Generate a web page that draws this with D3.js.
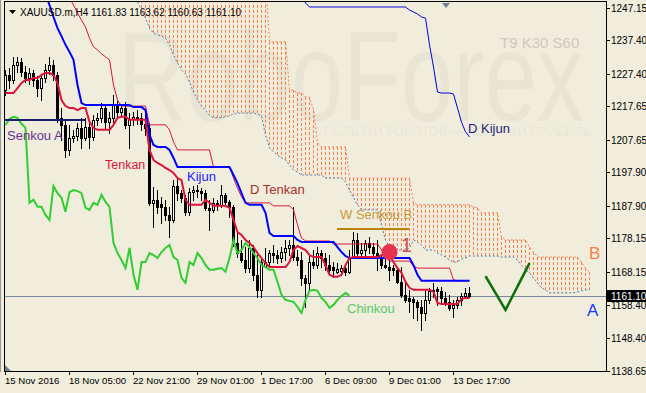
<!DOCTYPE html>
<html><head><meta charset="utf-8">
<script src="https://cdn.jsdelivr.net/npm/d3@7"></script>
<style>
html,body{margin:0;padding:0;background:#f0eddc;}
svg{display:block;font-family:"Liberation Sans",Arial,sans-serif;}
</style></head><body>
<svg id="c" width="646" height="393"></svg>
<script>
// ---------------- DATA ----------------
const symbolTitle = "XAUUSD.m,H4";
const headerOHLC = [1161.83, 1163.62, 1160.63, 1161.10];
const lastPrice = 1161.10;
const priceTicks = [1247.15,1237.40,1227.40,1217.65,1207.65,1197.90,1187.90,1178.15,1168.15,1158.40,1148.40,1138.65];
const dateTickBars = [0,16,32,48,64,80,96,112];
const dateTickLabels = ["15 Nov 2016","18 Nov 05:00","22 Nov 21:00","29 Nov 01:00","1 Dec 17:00","6 Dec 09:00","9 Dec 01:00","13 Dec 17:00"];

const open = [1222.5,1227.0,1225.5,1230.0,1230.9,1227.9,1226.1,1227.6,1225.5,1223.1,
1226.1,1228.5,1230.0,1227.0,1214.2,1212.1,1204.6,1208.2,1208.8,1211.2,
1208.2,1211.5,1208.5,1213.6,1214.2,1217.1,1213.0,1214.2,1218.0,1216.0,
1217.1,1212.1,1213.9,1214.5,1214.2,1212.4,1211.2,1188.8,1189.7,1188.5,
1187.6,1185.2,1183.7,1193.8,1191.7,1190.3,1186.1,1192.0,1192.6,1192.3,
1191.7,1187.3,1186.7,1188.8,1188.2,1191.2,1189.1,1187.6,1176.8,1173.8,
1171.7,1169.3,1175.3,1167.3,1162.8,1169.9,1171.1,1173.8,1173.2,1172.3,
1174.1,1175.3,1176.2,1172.6,1171.7,1166.4,1164.9,1171.1,1170.2,1173.8,
1172.3,1170.2,1169.6,1168.2,1168.5,1169.3,1168.2,1172.3,1177.7,1173.8,
1174.7,1176.8,1175.6,1173.8,1172.3,1170.2,1169.6,1169.3,1168.8,1165.2,
1161.3,1160.4,1160.1,1159.2,1157.7,1155.9,1159.8,1162.5,1163.1,1162.5,
1160.4,1159.2,1157.4,1158.3,1159.8,1161.0,1161.83];
const high = [1228.5,1229.1,1232.4,1232.4,1232.1,1229.7,1229.1,1228.5,1226.7,1227.3,
1230.3,1232.4,1231.5,1227.9,1217.1,1213.6,1212.1,1210.6,1212.7,1214.2,
1214.2,1213.0,1215.0,1215.6,1218.6,1217.7,1216.0,1221.0,1219.2,1218.3,
1218.9,1215.6,1216.0,1216.5,1215.6,1216.5,1212.7,1193.5,1192.6,1190.6,
1189.7,1187.6,1195.6,1196.2,1192.6,1191.2,1193.2,1193.8,1194.1,1193.2,
1192.6,1189.7,1190.3,1189.7,1194.1,1191.7,1189.7,1188.2,1180.7,1177.7,
1175.6,1177.7,1176.2,1173.2,1172.6,1175.3,1174.7,1176.2,1174.7,1175.6,
1177.7,1177.7,1187.6,1174.7,1174.1,1167.3,1173.2,1174.7,1175.6,1174.7,
1173.8,1173.2,1171.1,1170.8,1170.2,1170.5,1174.7,1180.1,1179.8,1176.8,
1177.7,1178.6,1176.8,1177.7,1173.2,1172.6,1171.7,1170.2,1169.6,1169.6,
1164.9,1162.8,1160.7,1159.8,1159.8,1162.8,1163.4,1164.9,1163.7,1163.7,
1162.2,1161.3,1159.8,1160.7,1161.9,1163.4,1163.62];
const low = [1221.0,1223.1,1224.6,1227.9,1226.7,1224.9,1224.3,1223.7,1220.7,1219.5,
1224.9,1227.3,1225.5,1213.0,1207.6,1202.5,1203.1,1207.0,1207.6,1205.2,
1207.6,1205.2,1207.6,1212.1,1213.0,1211.2,1209.7,1213.0,1214.2,1214.8,
1211.2,1205.2,1212.1,1212.4,1210.6,1209.1,1188.2,1181.6,1185.8,1182.8,
1183.7,1178.6,1183.1,1189.7,1189.1,1185.2,1185.2,1189.7,1190.6,1189.7,
1186.7,1180.7,1186.1,1186.7,1187.6,1188.2,1184.6,1175.9,1172.6,1171.1,
1168.2,1168.2,1165.8,1160.7,1160.7,1169.6,1170.2,1171.1,1170.8,1171.1,
1171.7,1173.2,1171.7,1170.2,1164.3,1157.7,1162.8,1169.3,1169.3,1169.6,
1168.8,1168.2,1166.7,1167.9,1167.3,1167.3,1167.9,1172.3,1173.2,1172.6,
1172.6,1173.8,1173.2,1168.8,1169.3,1169.3,1165.8,1167.3,1164.9,1160.7,
1159.2,1156.2,1154.4,1153.8,1150.8,1153.8,1158.9,1160.7,1158.3,1158.9,
1158.3,1156.8,1154.7,1157.4,1158.3,1160.4,1160.63];
const close = [1227.0,1225.5,1230.0,1230.9,1227.9,1226.1,1227.6,1225.5,1223.1,1226.1,
1228.5,1230.0,1227.0,1214.2,1212.1,1204.6,1208.2,1208.8,1211.2,1208.2,
1211.5,1208.5,1213.6,1214.2,1217.1,1213.0,1214.2,1218.0,1216.0,1217.1,
1212.1,1213.9,1214.5,1214.2,1212.4,1211.2,1188.8,1189.7,1187.6,1187.6,
1185.2,1183.7,1193.8,1191.7,1190.3,1186.1,1192.0,1192.6,1192.3,1191.7,
1187.3,1186.7,1188.8,1188.2,1191.2,1189.1,1187.6,1176.8,1173.8,1171.7,
1169.3,1175.3,1167.3,1162.8,1171.1,1171.1,1173.8,1173.2,1172.3,1174.1,
1175.3,1176.2,1172.6,1171.7,1166.4,1164.9,1171.1,1170.2,1173.8,1172.3,
1170.2,1168.8,1168.8,1169.1,1169.3,1168.2,1172.3,1177.7,1173.8,1174.7,
1176.8,1175.6,1173.8,1172.3,1170.2,1169.6,1168.8,1168.8,1165.2,1161.3,
1159.8,1159.5,1159.2,1157.7,1155.9,1159.8,1162.5,1162.8,1162.5,1160.4,
1159.2,1157.4,1158.3,1159.8,1161.0,1161.9,1161.10];

const tenkan = [1221.6,1221.6,1221.6,1223.1,1224.6,1225.5,1225.5,1226.1,1226.1,1227.0,
1227.6,1227.6,1227.0,1224.6,1219.5,1217.7,1217.1,1217.1,1216.5,1217.1,
1217.1,1213.0,1211.2,1210.6,1210.6,1210.6,1210.6,1212.1,1214.2,1214.5,
1214.5,1213.6,1213.6,1213.6,1213.6,1213.6,1204.6,1201.6,1200.7,1200.1,
1199.2,1198.6,1197.7,1196.2,1195.6,1189.7,1188.2,1188.2,1188.2,1188.2,
1189.7,1188.8,1187.9,1187.9,1187.9,1187.9,1187.3,1183.7,1180.1,1179.2,
1177.7,1176.8,1175.6,1173.8,1172.3,1170.8,1169.6,1169.6,1169.6,1169.6,
1169.6,1171.1,1174.7,1175.9,1175.3,1174.7,1173.2,1172.6,1172.6,1172.6,
1170.2,1167.3,1166.7,1166.7,1167.3,1170.2,1172.3,1172.6,1172.6,1172.6,
1172.6,1172.6,1172.6,1172.6,1173.2,1173.8,1173.2,1171.1,1169.3,1167.9,
1165.2,1163.4,1162.8,1162.8,1162.8,1162.8,1162.8,1162.2,1158.9,1158.6,
1158.6,1158.6,1158.6,1158.6,1160.1,1160.4,1160.4];

const kijunStart = 10;
const kijun = [1250.9,1247.9,1244.3,1241.0,1238.6,1236.0,1233.9,1231.5,1224.0,1218.6,
1218.0,1218.0,1218.0,1218.0,1218.0,1218.0,1218.0,1218.0,1218.0,1218.0,1218.0,1218.0,
1217.4,1217.4,1217.4,1216.5,1209.1,1206.1,1205.5,1205.5,1205.5,1204.6,1202.2,
1199.5,1199.5,1199.5,1199.5,1199.5,1199.5,1199.5,1199.5,1199.5,1199.5,1199.5,1199.5,1199.5,1199.5,
1197.1,1194.7,1191.7,1188.8,1188.2,1188.2,1188.2,1188.2,1185.8,1179.8,
1178.9,1178.9,1178.9,1178.9,1178.9,1178.9,1177.7,
1177.1,1177.1,1177.1,1177.1,1177.1,1177.1,1177.1,1177.1,1177.1,1175.6,1174.1,1172.9,
1172.3,1172.3,1172.3,1172.3,1172.3,1172.3,1172.3,1172.3,1172.3,1172.3,1172.3,1172.3,1172.3,1172.3,1172.3,1172.3,
1170.2,1167.3,
1165.5,1165.5,1165.5,1165.5,1165.5,1165.5,1165.5,1165.5,1165.5,1165.5,1165.5,1165.5,1165.5];

const dTenkanStart = 15;
const dTenkan = [1252.4,1250.0,1247.9,1245.5,1243.4,1241.3,1238.0,1235.4,1234.5,1233.3,
1232.4,1231.5,1224.0,1219.5,
1217.7,1217.7,1217.7,1217.7,1217.7,1217.7,1217.7,
1212.1,1212.1,1212.1,1212.1,1212.1,1210.6,1207.0,
1204.6,1204.6,1204.6,1204.6,1204.6,1204.6,1204.6,1204.6,1204.6,
1199.5,1199.5,1199.5,1199.5,1199.5,1196.2,1193.2,1190.6,
1188.8,1188.8,1188.8,1188.8,1188.8,1188.8,1188.8,
1187.9,1187.9,1187.9,1187.9,1187.9,1186.7,1182.2,1178.3,
1177.4,1177.4,1177.4,1177.4,1177.4,1177.4,1177.4,
1176.5,1176.5,1176.5,1176.5,1176.5,1176.5,1176.5,1176.5,1176.5,1176.5,1176.5,1176.5,
1174.7,1172.9,1171.4,1171.4,1171.4,1171.4,1171.4,1171.4,1169.9,
1169.3,1169.3,1169.3,1169.3,1169.3,1169.3,1169.3,1169.3,1169.3,
1165.8,1165.5,1165.5,1165.5,1165.5];

const dKijunStart = 74;
const dKijun = [1252.4,1248.5,
1247.3,1247.3,1247.3,1247.3,1247.3,1247.3,1247.3,1247.3,1247.3,1247.3,1247.3,1247.3,1247.3,
1247.3,1247.3,1247.3,1247.3,1247.3,1247.3,1247.3,1247.3,1247.3,1247.3,1247.3,1247.3,
1246.4,1245.8,1245.2,1244.3,1244.0,1236.0,1229.4,1221.9,1221.6,1221.6,1221.6,1221.3,
1217.1,1212.9,1210.0,1208.5];

const senkouStart = 33;
const senkouA = [1248.8,1246.4,1244.0,1241.0,1239.5,1239.0,1238.6,1238.0,1236.0,1233.0,
1230.6,1228.5,1227.3,1224.9,1221.9,1219.5,1217.7,1216.5,1215.0,1214.2,
1214.2,1214.2,1214.5,1214.8,1215.3,1215.6,1215.6,1215.6,1215.6,1215.6,
1215.3,1214.8,1209.1,1205.2,1204.0,1203.1,1202.2,1201.6,1200.1,1198.6,
1198.0,1197.1,1197.1,1197.1,1197.1,1197.1,1197.1,1196.2,1196.2,1196.2,
1196.2,1196.2,1195.0,1192.6,1190.3,1188.2,1186.7,1186.7,1186.7,1186.7,
1186.7,1182.2,1177.7,1175.6,1174.7,1174.7,1174.7,1174.7,1175.3,1177.7,
1177.1,1176.2,1174.7,1174.7,1174.7,1173.8,1173.2,1172.6,1171.7,1171.1,
1171.1,1172.0,1172.3,1172.9,1172.9,1172.9,1172.9,1172.9,1172.9,1172.9,
1172.9,1172.6,1172.6,1172.6,1172.6,1171.7,1170.2,1168.8,1167.9,1166.4,
1164.9,1163.4,1162.8,1161.9,1161.9,1161.9,1161.9,1161.9,1161.9,1161.9,
1162.2,1162.5,1162.8,1162.8];
const senkouB = [1255.4,1255.4,1255.4,1255.4,1255.4,1255.4,1255.4,1255.4,1255.4,1255.4,1255.4,
1255.4,1255.4,1255.4,1255.4,1255.4,1255.4,1255.4,1255.4,1255.4,1255.4,1255.4,
1255.4,1255.4,1255.4,1255.4,1255.4,1255.4,1255.4,1255.4,1255.4,1255.4,1255.4,
1236.9,1236.9,1236.9,1236.9,1236.9,1222.5,1222.5,1221.6,1221.6,1220.4,1220.4,1216.5,1206.7,
1205.5,1205.5,1205.5,1205.5,1205.5,1205.5,1205.5,
1196.2,1196.2,1196.2,1196.2,1196.2,1196.2,1196.2,1196.2,1196.2,1196.2,1196.2,1196.2,1196.2,1196.2,1196.2,1196.2,
1188.8,1188.2,1188.2,1188.2,1188.2,1188.2,1188.2,1188.2,1188.2,1188.2,1188.2,1188.2,1188.2,1188.2,1188.2,
1187.6,1187.3,1185.8,1185.8,1185.8,1185.8,1185.8,1178.6,
1177.7,1177.7,1177.7,1177.7,1177.7,1177.7,1175.6,1174.1,
1172.6,1172.6,1172.6,1172.6,1172.6,1172.6,1172.6,1172.6,1172.6,1172.6,1172.6,
1171.1,1169.3,1168.1];

const chinkouShift = 30;

// horizontal levels
const levelNames = ["Senkou A", "W Senkou B"];
const levelValues = [1213.6, 1181.0];
const levelFrom = [0, 83];
const levelTo = [20, 101];

const markerBar = 96, markerValue = 1174.1;
const checkBars = [120, 125, 131];
const checkValues = [1166.9, 1156.8, 1170.8];

// ---------------- DRAW ----------------
const W = 646, H = 393;
const PL = 5, PR = 606, PT = 2, PB = 371;
const svg = d3.select("#c");
const x = d3.scaleLinear().domain([0, 150]).range([5, 605]);
const y = d3.scaleLinear().domain([1138.65, 1247.15]).range([370.7, 7.5]);
const cx = i => x(i) + 0.5;

svg.append("rect").attr("width", W).attr("height", H).attr("fill", "#f0eddc");
svg.append("defs").append("clipPath").attr("id", "clip")
  .append("rect").attr("x", PL).attr("y", PT).attr("width", PR - PL).attr("height", PB - PT);

// watermark
svg.append("text").attr("x", 118).attr("y", 121).attr("font-size", 128)
  .attr("textLength", 466).attr("lengthAdjust", "spacingAndGlyphs")
  .attr("fill", "#000").attr("fill-opacity", 0.03).text("RoboForex");
svg.append("text").attr("x", 306).attr("y", 136).attr("font-size", 13)
  .attr("textLength", 286).attr("lengthAdjust", "spacingAndGlyphs")
  .attr("fill", "#000").attr("fill-opacity", 0.045).text("ИСПОЛЬЗУЙ РОБОТОВ — ПОЛУЧАЙ ПРИБЫЛЬ");

const g = svg.append("g").attr("clip-path", "url(#clip)");

// cloud hatch
const cloud = senkouA.map((a, k) => ({ i: senkouStart + k, a, b: senkouB[k] }));
g.append("g").selectAll("line").data(cloud).join("line")
  .attr("x1", d => cx(d.i)).attr("x2", d => cx(d.i))
  .attr("y1", d => y(Math.max(d.a, d.b))).attr("y2", d => y(Math.min(d.a, d.b)))
  .attr("stroke", "#f97f52").attr("stroke-width", 1).attr("stroke-dasharray", "3,2");

const ln = d3.line().x(d => cx(d.i)).y(d => y(d.v));
const ser = (arr, start) => arr.map((v, k) => ({ i: start + k, v }));

g.append("path").attr("d", ln(ser(senkouB, senkouStart))).attr("fill", "none")
  .attr("stroke", "#f97f52").attr("stroke-width", 1).attr("stroke-dasharray", "2,2");
g.append("path").attr("d", ln(ser(senkouA, senkouStart))).attr("fill", "none")
  .attr("stroke", "#4682b4").attr("stroke-width", 1).attr("stroke-dasharray", "2,2");

// current price line
g.append("line").attr("x1", PL).attr("x2", PR)
  .attr("y1", Math.round(y(lastPrice)) + 0.5).attr("y2", Math.round(y(lastPrice)) + 0.5)
  .attr("stroke", "#778899").attr("stroke-width", 1);

// candles
const candles = close.map((c, i) => ({ i, o: open[i], h: high[i], l: low[i], c }));
const cg = g.append("g");
cg.selectAll("line").data(candles).join("line")
  .attr("x1", d => cx(d.i)).attr("x2", d => cx(d.i))
  .attr("y1", d => Math.round(y(d.h))).attr("y2", d => Math.round(y(d.l)) + 1)
  .attr("stroke", "#000").attr("stroke-width", 1);
cg.selectAll("rect.bear").data(candles.filter(d => d.c < d.o)).join("rect").attr("class", "bear")
  .attr("x", d => x(d.i) - 1).attr("width", 3)
  .attr("y", d => Math.round(y(d.o)))
  .attr("height", d => Math.max(1, Math.round(y(d.c)) - Math.round(y(d.o)) + 1))
  .attr("fill", "#000");
cg.selectAll("rect.bull").data(candles.filter(d => d.c >= d.o)).join("rect").attr("class", "bull")
  .attr("x", d => x(d.i) - 0.5).attr("width", 2)
  .attr("y", d => Math.round(y(d.c)) + 0.5)
  .attr("height", d => Math.max(0.01, Math.round(y(d.o)) - Math.round(y(d.c))))
  .attr("fill", "#fff").attr("stroke", "#000").attr("stroke-width", 1);

// daily lines
g.append("path").attr("d", ln(ser(dTenkan, dTenkanStart))).attr("fill", "none")
  .attr("stroke", "#dc143c").attr("stroke-width", 1);
g.append("path").attr("d", ln(ser(dKijun, dKijunStart))).attr("fill", "none")
  .attr("stroke", "#0000e0").attr("stroke-width", 1);

// kijun, tenkan
g.append("path").attr("d", ln(ser(kijun, kijunStart))).attr("fill", "none")
  .attr("stroke", "#0000ff").attr("stroke-width", 2);
g.append("path").attr("d", ln(ser(tenkan, 0))).attr("fill", "none")
  .attr("stroke", "#dc143c").attr("stroke-width", 2);

// chinkou
g.append("path").attr("d", ln(ser(close.slice(chinkouShift), 0))).attr("fill", "none")
  .attr("stroke", "#32cd32").attr("stroke-width", 2);

// levels
const levelColors = ["#1c1c6c", "#b8860b"];
levelValues.forEach((v, k) => {
  const yy = Math.round(y(v));
  g.append("line").attr("x1", x(levelFrom[k])).attr("x2", x(levelTo[k]))
    .attr("y1", yy).attr("y2", yy).attr("stroke", levelColors[k]).attr("stroke-width", 2);
});

// marker circle
g.append("circle").attr("cx", cx(markerBar)).attr("cy", y(markerValue)).attr("r", 8)
  .attr("fill", "#e8304f");
svg.append("text").attr("x", 401).attr("y", 252).attr("font-size", 20)
  .attr("fill", "#cc3344").attr("fill-opacity", 0.85).text("1");

// green check
g.append("path").attr("d", ln(checkBars.map((b, k) => ({ i: b, v: checkValues[k] }))))
  .attr("fill", "none").attr("stroke", "#0a6e0a").attr("stroke-width", 2.5);

// labels
const labels = [
  { t: levelNames[0], x: 7, y: 140, c: "#663399", s: 13 },
  { t: "Tenkan", x: 105, y: 169, c: "#dc143c", s: 12.5 },
  { t: "Kijun", x: 187, y: 181, c: "#2222ff", s: 13 },
  { t: "D Tenkan", x: 250, y: 194, c: "#a8302c", s: 13 },
  { t: levelNames[1], x: 340, y: 219, c: "#c99a3a", s: 13 },
  { t: "Chinkou", x: 347, y: 313, c: "#5cc86a", s: 13 },
  { t: "D Kijun", x: 468, y: 133, c: "#1e1e80", s: 13 },
  { t: "T9 K30 S60", x: 500, y: 48, c: "#d6c6c2", s: 15 },
  { t: "B", x: 589, y: 259, c: "#f97f52", s: 17 },
  { t: "A", x: 587, y: 316, c: "#1a3cff", s: 17 }
];
svg.append("g").selectAll("text").data(labels).join("text")
  .attr("x", d => d.x).attr("y", d => d.y).attr("font-size", d => d.s)
  .attr("fill", d => d.c).text(d => d.t);

// frame
svg.append("line").attr("x1", 0.5).attr("x2", 0.5).attr("y1", 0).attr("y2", 372).attr("stroke", "#9a9a9a");
svg.append("rect").attr("x", 4.5).attr("y", 1.5).attr("width", 602).attr("height", 370)
  .attr("fill", "none").attr("stroke", "#000").attr("stroke-width", 1);

// right axis
const ra = svg.append("g");
priceTicks.forEach(v => {
  const yy = Math.round(y(v)) + 0.5;
  ra.append("line").attr("x1", 606).attr("x2", 610).attr("y1", yy).attr("y2", yy).attr("stroke", "#000");
  ra.append("text").attr("x", 611).attr("y", yy + 3.5).attr("font-size", 10).attr("fill", "#000")
    .text(v.toFixed(2));
});
const ly = Math.round(y(lastPrice));
ra.append("rect").attr("x", 607).attr("y", ly - 6).attr("width", 39).attr("height", 12).attr("fill", "#000");
ra.append("text").attr("x", 611).attr("y", ly + 4).attr("font-size", 10).attr("fill", "#fff")
  .text(lastPrice.toFixed(2));

// bottom axis
const ba = svg.append("g");
dateTickBars.forEach((b, k) => {
  const xx = cx(b);
  ba.append("line").attr("x1", xx).attr("x2", xx).attr("y1", 371).attr("y2", 375).attr("stroke", "#000");
  ba.append("text").attr("x", xx - 0.5).attr("y", 384).attr("font-size", 9.6).attr("fill", "#000")
    .text(dateTickLabels[k]);
});

// header
svg.append("path").attr("d", "M9,10 L16,10 L12.5,14 Z").attr("fill", "#000");
svg.append("text").attr("x", 20).attr("y", 16).attr("font-size", 10).attr("fill", "#000")
  .text(symbolTitle + "  " + headerOHLC.map(v => v.toFixed(2)).join(" "));

// small markers
svg.append("path").attr("d", "M442,3 L450,3 L446,8 Z").attr("fill", "#708090");
svg.append("path").attr("d", "M5,365 L5,371 L11,371 Z").attr("fill", "#708090");
</script>
</body></html>
